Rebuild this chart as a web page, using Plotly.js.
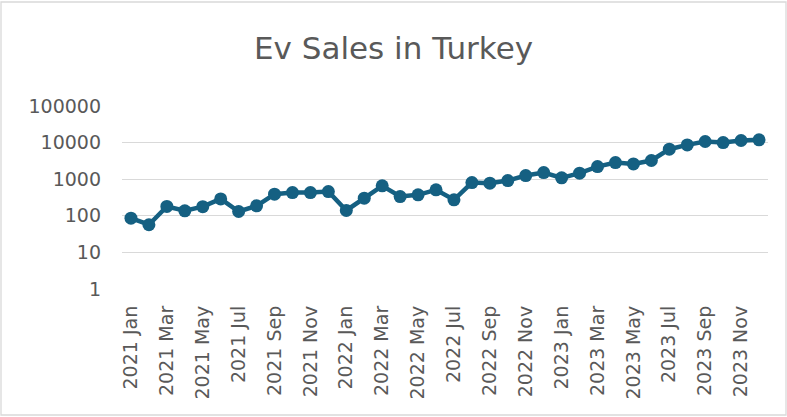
<!DOCTYPE html>
<html>
<head>
<meta charset="utf-8">
<script src="https://cdn.plot.ly/plotly-3.0.1.min.js"></script>
<style>html,body{margin:0;padding:0;background:#fff;}#chart{width:787px;height:417px;}</style>
</head>
<body>
<div id="chart"></div>
<script>
const months = ["2021 Jan","2021 Feb","2021 Mar","2021 Apr","2021 May","2021 Jun","2021 Jul","2021 Aug","2021 Sep","2021 Oct","2021 Nov","2021 Dec",
"2022 Jan","2022 Feb","2022 Mar","2022 Apr","2022 May","2022 Jun","2022 Jul","2022 Aug","2022 Sep","2022 Oct","2022 Nov","2022 Dec",
"2023 Jan","2023 Feb","2023 Mar","2023 Apr","2023 May","2023 Jun","2023 Jul","2023 Aug","2023 Sep","2023 Oct","2023 Nov","2023 Dec"];
const sales = [86,57,180,137,178,290,131,187,390,432,430,460,
140,303,658,336,374,512,273,811,777,918,1259,1515,
1090,1460,2213,2850,2620,3240,6600,8650,10700,10000,11400,11900];
const tickMonths = months.filter((m,i)=>i%2===0);
const yTicks = [1,10,100,1000,10000,100000];

const FONT = 'DejaVu Sans, Verdana, sans-serif';
const trace = {
  x: months, y: sales, type: 'scatter', mode: 'lines+markers',
  line: {color: '#156082', width: 4.5},
  marker: {color: '#156082', size: 13},
  hoverinfo: 'x+y'
};
const layout = {
  width: 787, height: 417,
  margin: {l: 122, r: 19, t: 106, b: 128},
  paper_bgcolor: '#fff', plot_bgcolor: '#fff',
  showlegend: false,
  title: {text: 'Ev Sales in Turkey', x: 0.5, xanchor: 'center', y: 0.885, yanchor: 'middle',
    font: {family: FONT, size: 31, color: '#595959'}},
  xaxis: {
    type: 'category', tickmode: 'array', tickvals: tickMonths, ticktext: tickMonths,
    tickangle: -90, showgrid: false, zeroline: false, showline: false, ticks: '',
    ticklabelstandoff: 12,
    tickfont: {family: FONT, size: 19, color: '#595959'},
    range: [-0.5, 35.5]
  },
  yaxis: {
    type: 'log', range: [0, 5], tickmode: 'array', tickvals: yTicks, ticktext: yTicks.map(String),
    showgrid: true, gridcolor: '#d9d9d9', gridwidth: 1.3, zeroline: false, showline: false, ticks: '',
    ticklabelstandoff: 20,
    tickfont: {family: FONT, size: 19, color: '#595959'}
  },
  shapes: [{type:'rect', xref:'paper', yref:'paper',
    x0: -121/646, x1: 1 + 18/646, y0: -(128-2)/(417-106-128), y1: 1 + (106-2)/(417-106-128),
    line:{color:'#d9d9d9', width:1.3}, layer:'below'}]
};
Plotly.newPlot('chart', [trace], layout, {displayModeBar: false, staticPlot: true});
</script>
</body>
</html>
